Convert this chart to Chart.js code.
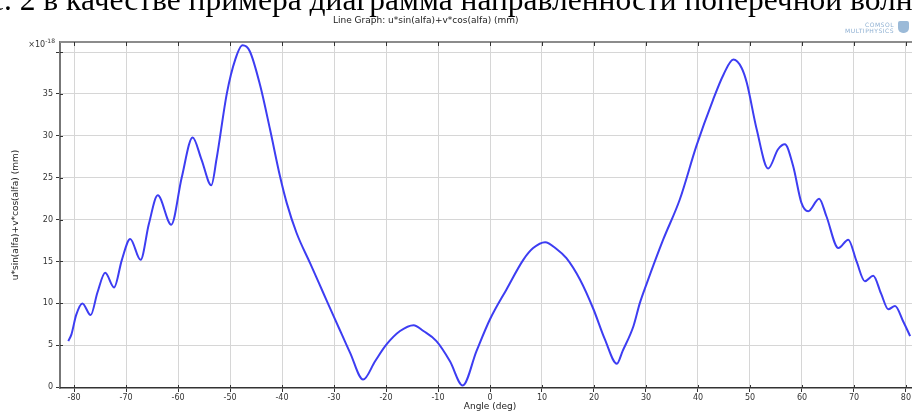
<!DOCTYPE html>
<html>
<head>
<meta charset="utf-8">
<script src="https://cdn.jsdelivr.net/npm/chart.js@4"></script>
<style>
  html, body { margin: 0; padding: 0; width: 912px; height: 412px; overflow: hidden; background: #fff; }
  #wrap { position: relative; width: 912px; height: 412px; overflow: hidden; }
  #chart-box { position: absolute; left: 0; top: 0; width: 921px; height: 412px; }
  #caption { position: absolute; left: -10px; top: -16px; font: 31.5px/32px "Liberation Serif", serif; color: #000; white-space: nowrap; }
  #title { position: absolute; left: 333px; top: 15px; font: 9px "DejaVu Sans", sans-serif; color: #222; white-space: nowrap; }
  #logo { position: absolute; left: 836px; top: 22px; font: 6px/6px "DejaVu Sans", sans-serif; color: #8fb0d2; text-align: right; width: 58px; letter-spacing: 0.5px; }
  #logo-icon { position: absolute; left: 898px; top: 21px; width: 11px; height: 12px; background: #9bbad8; border-radius: 2px 2px 5px 5px; }
</style>
</head>
<body>
<div id="wrap">
  <div id="chart-box"><canvas id="chart"></canvas></div>
  <div id="caption">с. 2 в качестве примера диаграмма направленности поперечной волны</div>
  <div id="title">Line Graph: u*sin(alfa)+v*cos(alfa) (mm)</div>
  <div id="logo">COMSOL<br>MULTIPHYSICS</div>
  <div id="logo-icon"></div>
</div>
<script>
// Angle (deg) and amplitude (x10^-18 mm)
const angles = [
  -81.1, -80.5, -79.6, -78.4, -76.8, -75.5, -74.0, -72.3, -70.8, -69.2,
  -67.2, -65.6, -63.9, -61.3, -59.3, -57.2, -55.5, -53.6, -52.6, -50.6,
  -49.0, -47.6, -46.2, -44.2, -42.3, -40.4, -39.1, -37.2, -34.6, -32.1,
  -30.1, -28.5, -26.9, -24.4, -22.1, -19.9, -17.3, -14.7, -12.8, -10.3,
  -7.7, -5.25, -2.6, 0, 3.2, 6.4, 8.3, 10.6, 12.8, 14.7,
  17.3, 19.9, 22.1, 24.4, 25.5, 27.6, 28.8, 30.1, 33.3, 36.5,
  39.7, 42.9, 44.9, 46.8, 48.4, 49.4, 51.3, 53.5, 55.4, 56.7,
  58.3, 59.9, 61.2, 63.3, 64.7, 67.0, 68.9, 70.5, 72.1, 73.7,
  75.2, 76.6, 77.9, 79.5, 80.8
];
const amplitude = [
  5.5, 6.3, 8.6, 10.0, 8.6, 11.3, 13.65, 11.9, 15.2, 17.7,
  15.2, 19.5, 22.9, 19.4, 25.0, 29.8, 27.2, 24.1, 27.2, 35.1,
  39.1, 40.8, 40.1, 36.0, 30.75, 25.2, 22.0, 18.4, 14.8, 11.3,
  8.5, 6.3, 4.1, 0.9, 3.1, 5.1, 6.7, 7.4, 6.7, 5.5,
  3.1, 0.2, 4.3, 8.1, 11.7, 15.2, 16.6, 17.3, 16.5, 15.4,
  12.85, 9.3, 5.7, 2.8, 4.3, 7.3, 10.0, 12.3, 17.6, 22.4,
  28.8, 34.3, 37.3, 39.1, 38.1, 36.3, 30.75, 26.1, 28.4, 29.0,
  26.4, 22.0, 21.0, 22.5, 20.4, 16.6, 17.6, 15.0, 12.65, 13.3,
  11.2, 9.3, 9.7, 7.8, 6.1
];
const yTicksHidden = [40];

const tickFont = { family: 'DejaVu Sans', size: 8 };
const titleFont = { family: 'DejaVu Sans', size: 9 };

// top border, inner tick marks and the x10^-18 factor
const extras = {
  id: 'extras',
  afterDraw(chart) {
    const { ctx, chartArea: a, scales: { x, y } } = chart;
    ctx.save();
    ctx.strokeStyle = '#8c8c8c';
    ctx.lineWidth = 2;
    ctx.beginPath();
    ctx.moveTo(a.left, a.top);
    ctx.lineTo(a.right, a.top);
    ctx.stroke();

    ctx.strokeStyle = '#333';
    ctx.lineWidth = 1;
    ctx.beginPath();
    x.ticks.forEach(t => {
      const px = Math.round(x.getPixelForValue(t.value)) + 0.5;
      ctx.moveTo(px, a.top);
      ctx.lineTo(px, a.top + 4);
      ctx.moveTo(px, a.bottom);
      ctx.lineTo(px, a.bottom - 3);
    });
    y.ticks.forEach(t => {
      const py = Math.round(y.getPixelForValue(t.value)) + 0.5;
      ctx.moveTo(a.left, py);
      ctx.lineTo(a.left + 3, py);
    });
    ctx.stroke();

    ctx.fillStyle = '#333';
    ctx.textBaseline = 'alphabetic';
    ctx.textAlign = 'right';
    ctx.font = '6px "DejaVu Sans"';
    ctx.fillText('-18', a.left - 5, a.top + 1);
    const w = ctx.measureText('-18').width;
    ctx.font = '8px "DejaVu Sans"';
    ctx.fillText('\u00d710', a.left - 5 - w, a.top + 5);
    ctx.restore();
  }
};

new Chart(document.getElementById('chart'), {
  type: 'line',
  data: {
    datasets: [{
      data: angles.map((a, i) => ({ x: a, y: amplitude[i] })),
      borderColor: '#3d3df2',
      borderWidth: 2,
      pointRadius: 0,
      cubicInterpolationMode: 'monotone',
      fill: false
    }]
  },
  options: {
    responsive: true,
    maintainAspectRatio: false,
    animation: false,
    events: [],
    layout: { padding: { top: 42, right: 1, left: 0, bottom: 0 } },
    plugins: { legend: { display: false }, tooltip: { enabled: false } },
    scales: {
      x: {
        type: 'linear',
        min: -82.7,
        max: 82.7,
        afterFit(scale) { scale.height = 24; },
        ticks: { stepSize: 10, includeBounds: false, font: tickFont, color: '#333', padding: 1, maxRotation: 0 },
        grid: { color: '#d6d6d6', lineWidth: 1, tickLength: 4, tickColor: '#333' },
        border: { color: '#333', width: 1.5 },
        title: { display: true, text: 'Angle (deg)', font: titleFont, color: '#222', padding: { top: -4, bottom: 0 } }
      },
      y: {
        min: -0.1,
        max: 41.2,
        afterFit(scale) { scale.width = 60; },
        ticks: {
          stepSize: 5,
          includeBounds: false,
          font: tickFont,
          color: '#333',
          padding: 3,
          callback: v => yTicksHidden.includes(v) ? '' : v
        },
        grid: { color: '#d6d6d6', lineWidth: 1, tickLength: 4, tickColor: '#333' },
        border: { color: '#777', width: 2 },
        title: { display: true, text: 'u*sin(alfa)+v*cos(alfa) (mm)', font: titleFont, color: '#222', padding: { top: 10, bottom: 0 } }
      }
    }
  },
  plugins: [extras]
});
</script>
</body>
</html>
